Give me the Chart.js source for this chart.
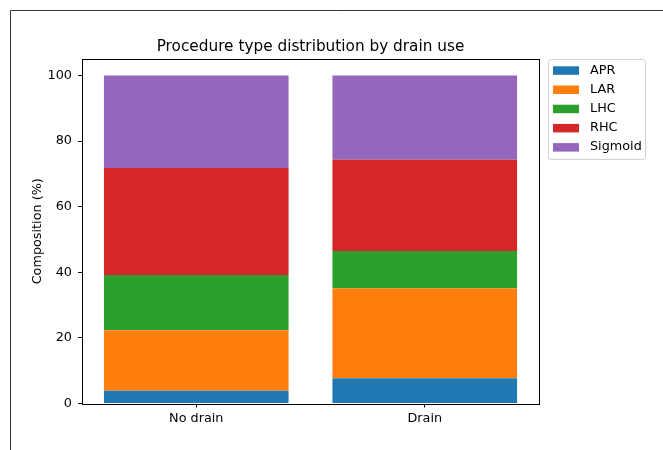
<!DOCTYPE html>
<html>
<head>
<meta charset="utf-8">
<script src="https://cdn.jsdelivr.net/npm/chart.js@4/dist/chart.umd.min.js"></script>
<style>
  html, body { margin: 0; padding: 0; background: #fff; }
  #wrap { width: 663px; height: 450px; position: relative; }
</style>
</head>
<body>
<div id="wrap"><canvas id="c" width="663" height="450"></canvas></div>
<script>
// Categories and stacked composition (%) per procedure type
const groups = ['No drain', 'Drain'];
const procedures = ['APR', 'LAR', 'LHC', 'RHC', 'Sigmoid'];
const apr = [3.85, 7.7];
const lar = [18.5, 27.4];
const lhc = [16.8, 11.4];
const rhc = [32.6, 27.8];
const sigmoid = [28.25, 25.7];
const yTicks = [0, 20, 40, 60, 80, 100];
const colors = ['#1f77b4', '#ff7f0e', '#2ca02c', '#d62728', '#9467bd'];

const FONT = '"DejaVu Sans", sans-serif';
const seriesValues = [apr, lar, lhc, rhc, sigmoid];

const datasets = procedures.map((name, i) => ({
  label: name,
  data: seriesValues[i],
  backgroundColor: colors[i],
  borderWidth: 0,
  barPercentage: 0.808,
  categoryPercentage: 1.0
}));

// Frame, spines, title, y-axis label and legend box
const decorations = {
  id: 'decorations',
  beforeDraw(chart) {
    const ctx = chart.ctx;
    ctx.save();
    ctx.fillStyle = '#fff';
    ctx.fillRect(0, 0, chart.width, chart.height);
    ctx.strokeStyle = '#333';
    ctx.lineWidth = 1;
    ctx.beginPath();
    ctx.moveTo(10.5, chart.height);
    ctx.lineTo(10.5, 10.5);
    ctx.lineTo(chart.width, 10.5);
    ctx.stroke();
    ctx.restore();
  },
  afterDraw(chart) {
    const ctx = chart.ctx;
    const a = chart.chartArea;
    ctx.save();
    // axes box
    ctx.strokeStyle = '#000';
    ctx.lineWidth = 1;
    ctx.strokeRect(Math.round(a.left) + 0.5, Math.round(a.top) + 0.5,
                   Math.round(a.right - a.left), Math.round(a.bottom - a.top));
    // title
    ctx.fillStyle = '#000';
    ctx.font = '15.3px ' + FONT;
    ctx.textAlign = 'center';
    ctx.textBaseline = 'middle';
    ctx.fillText('Procedure type distribution by drain use', (a.left + a.right) / 2, 47);
    // y-axis label
    ctx.font = '12.8px ' + FONT;
    ctx.translate(37.5, (a.top + a.bottom) / 2);
    ctx.rotate(-Math.PI / 2);
    ctx.fillText('Composition (%)', 0, 0);
    ctx.restore();

    // legend
    ctx.save();
    const lx = 548.5, ly = 59.5, lw = 97, lh = 100;
    ctx.fillStyle = 'rgba(255,255,255,0.8)';
    ctx.strokeStyle = '#d0d0d0';
    ctx.lineWidth = 1;
    ctx.beginPath();
    ctx.roundRect(lx, ly, lw, lh, 3);
    ctx.fill();
    ctx.stroke();
    ctx.font = '12.8px ' + FONT;
    ctx.textAlign = 'left';
    ctx.textBaseline = 'middle';
    chart.data.datasets.forEach((ds, i) => {
      const cy = 70.3 + i * 19.2;
      ctx.fillStyle = ds.backgroundColor;
      ctx.fillRect(553, cy - 4, 26, 8.5);
      ctx.fillStyle = '#000';
      ctx.fillText(ds.label, 590, cy);
    });
    ctx.restore();
  }
};

new Chart(document.getElementById('c'), {
  type: 'bar',
  data: { labels: groups, datasets },
  plugins: [decorations],
  options: {
    responsive: false,
    animation: false,
    layout: { padding: { left: 0, top: 59, right: 124, bottom: 0 } },
    plugins: {
      legend: { display: false },
      title: { display: false },
      tooltip: { enabled: false }
    },
    scales: {
      x: {
        stacked: true,
        grid: { offset: false, drawOnChartArea: false, drawTicks: true, tickLength: 4, color: '#000' },
        border: { display: false },
        ticks: { color: '#000', font: { family: FONT, size: 12.8 }, padding: 3 },
        afterFit(s) { s.height = 46.5; }
      },
      y: {
        stacked: true,
        min: 0,
        max: 105,
        afterBuildTicks(s) { s.ticks = yTicks.map(v => ({ value: v })); },
        grid: { drawOnChartArea: false, drawTicks: true, tickLength: 4, color: '#000' },
        border: { display: false },
        ticks: { color: '#000', font: { family: FONT, size: 12.8 }, padding: 6 },
        afterFit(s) { s.width = 82; }
      }
    }
  }
});
</script>
</body>
</html>
